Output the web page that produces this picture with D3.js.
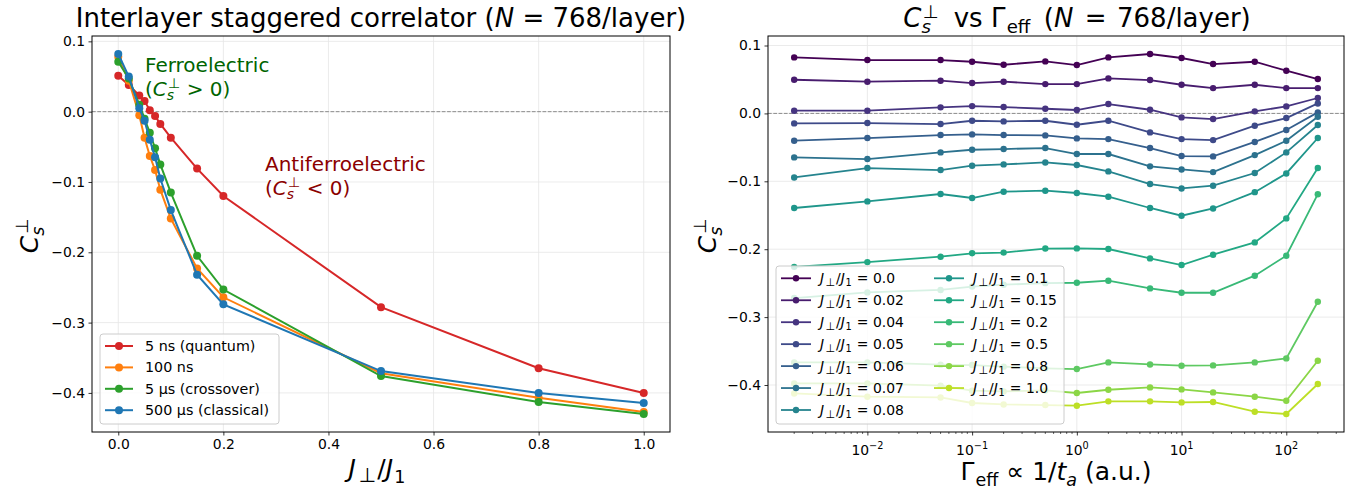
<!DOCTYPE html>
<html><head><meta charset="utf-8">
<script src="https://cdn.jsdelivr.net/npm/d3@7"></script>
<style>
body{margin:0;background:#fff}
svg text{font-family:'DejaVu Sans',sans-serif;white-space:pre}
</style></head>
<body><svg id="c" width="1367" height="496"></svg>
<script>
// ---------------- DATA ----------------
const jRatio = [0, 0.02, 0.04, 0.05, 0.06, 0.07, 0.08, 0.1, 0.15, 0.2, 0.5, 0.8, 1.0];
const seriesNames = ['5 ns (quantum)', '100 ns', '5 µs (crossover)', '500 µs (classical)'];
const cs5ns   = [0.051, 0.038, 0.023, 0.015, 0.002, -0.006, -0.0175, -0.037, -0.081, -0.120, -0.278, -0.365, -0.400];
const cs100ns = [0.078, 0.044, -0.005, -0.037, -0.063, -0.083, -0.111, -0.152, -0.223, -0.264, -0.372, -0.407, -0.427];
const cs5us   = [0.071, 0.047, 0.010, -0.010, -0.030, -0.052, -0.075, -0.115, -0.205, -0.253, -0.376, -0.413, -0.430];
const cs500us = [0.082, 0.050, 0.005, -0.013, -0.040, -0.065, -0.095, -0.140, -0.232, -0.274, -0.369, -0.400, -0.4145];
const leftColors = ['#d62728', '#ff7f0e', '#2ca02c', '#1f77b4'];

const gammaEff = [0.002, 0.01, 0.05, 0.1, 0.2, 0.5, 1, 2, 5, 10, 20, 50, 100, 200];
const csJ000 = [0.0825,0.0786,0.0786,0.0761,0.0717,0.0766,0.0712,0.0825,0.0875,0.0816,0.0727,0.0761,0.0629,0.0506];
const csJ002 = [0.0496,0.0467,0.0482,0.0447,0.0467,0.0432,0.0432,0.0516,0.0491,0.0422,0.0373,0.0422,0.0373,0.0373];
const csJ004 = [0.004,0.004,0.0089,0.0108,0.0094,0.0069,0.005,0.0138,0.0054,-0.0059,-0.0083,0.003,0.0103,0.0227];
const csJ005 = [-0.0147,-0.0142,-0.0157,-0.0108,-0.0118,-0.0108,-0.0167,-0.0108,-0.028,-0.0378,-0.0393,-0.0181,-0.0068,0.0147];
const csJ006 = [-0.0402,-0.0363,-0.0319,-0.0309,-0.0319,-0.0324,-0.0368,-0.0378,-0.051,-0.0628,-0.0633,-0.042,-0.0245,0.0015];
const csJ007 = [-0.0648,-0.0672,-0.0574,-0.0535,-0.0525,-0.051,-0.0598,-0.0598,-0.078,-0.0825,-0.0864,-0.0614,-0.0402,-0.0049];
const csJ008 = [-0.0943,-0.0805,-0.0834,-0.077,-0.0751,-0.0722,-0.076,-0.0854,-0.104,-0.1105,-0.1065,-0.0878,-0.0574,-0.0171];
const csJ010 = [-0.1393,-0.1296,-0.1187,-0.1246,-0.1153,-0.1138,-0.1172,-0.1227,-0.1393,-0.1507,-0.14,-0.116,-0.0884,-0.0362];
const csJ015 = [-0.226,-0.219,-0.211,-0.206,-0.205,-0.199,-0.1988,-0.1997,-0.2135,-0.2233,-0.2081,-0.19,-0.1546,-0.0804];
const csJ020 = [-0.2719,-0.2636,-0.26,-0.255,-0.2523,-0.25,-0.2494,-0.2464,-0.2577,-0.2641,-0.2641,-0.239,-0.2096,-0.119];
const csJ050 = [-0.3667,-0.3667,-0.37,-0.3706,-0.373,-0.3755,-0.3765,-0.3667,-0.3697,-0.3716,-0.3711,-0.3667,-0.3608,-0.2773];
const csJ080 = [-0.3976,-0.3976,-0.401,-0.4084,-0.4094,-0.408,-0.4118,-0.407,-0.4035,-0.4065,-0.4109,-0.4172,-0.4231,-0.3642];
const csJ100 = [-0.4124,-0.4172,-0.4183,-0.4265,-0.4286,-0.4295,-0.4305,-0.4241,-0.4241,-0.4256,-0.425,-0.4393,-0.4427,-0.3985];
const rightSeries = [csJ000,csJ002,csJ004,csJ005,csJ006,csJ007,csJ008,csJ010,csJ015,csJ020,csJ050,csJ080,csJ100];

const yTickVals = [0.1, 0.0, -0.1, -0.2, -0.3, -0.4];
const xTickValsL = [0.0, 0.2, 0.4, 0.6, 0.8, 1.0];
const xTickExpR = [-2, -1, 0, 1, 2];

// ---------------- LAYOUT ----------------
const svg = d3.select('#c');
const L = {x0: 92, x1: 670, y0: 36, y1: 432};
const R = {x0: 768, x1: 1344, y0: 36, y1: 432};
const fsTick = 13.9, fsLab = 25, fsTitle = 26, fsAnn = 20, fsLeg = 14.3, fsLegR = 13.9;
const gridCol = '#e6e6e6';

function padExtent(arr, frac) {
  const [a, b] = d3.extent(arr); const p = (b - a) * frac; return [a - p, b + p];
}
function rich(parent, x, y, fs, parts, attrs) {
  const t = parent.append('text').attr('x', x).attr('y', y).attr('font-size', fs);
  if (attrs) for (const k in attrs) t.attr(k, attrs[k]);
  let cur = 0;
  parts.forEach(p => {
    const sh = (p.sh || 0) * fs;
    const ts = t.append('tspan').text(p.t).attr('font-size', (p.s || 1) * fs);
    if (sh !== cur) ts.attr('dy', sh - cur);
    if (p.dx) ts.attr('dx', p.dx * fs);
    if (p.it) ts.attr('font-style', 'italic');
    cur = sh;
  });
  return t;
}
const CsParts = [{t: 'C', it: 1}, {t: 's', it: 1, s: .7, sh: .22}, {t: '⊥', s: .7, sh: -.42, dx: -.3}];
const CsPartsT = [{t: 'C', it: 1}, {t: 's', it: 1, s: .7, sh: .22}, {t: '⊥', s: .7, sh: -.36, dx: -.3}];
const JParts = [{t: 'J', it: 1}, {t: '⊥', s: .8, sh: .2, dx: .1}, {t: '/', sh: 0, dx: .06}, {t: 'J', it: 1}, {t: '1', s: .7, sh: .22, dx: .05}];

// ---------------- LEFT PANEL ----------------
const leftSeries = [cs5ns, cs100ns, cs5us, cs500us];
const xL = d3.scaleLinear().domain(padExtent(jRatio, 0.05)).range([L.x0, L.x1]);
const yL = d3.scaleLinear().domain(padExtent(leftSeries.flat(), 0.05)).range([L.y1, L.y0]);
const gl = svg.append('g');
gl.selectAll('.gx').data(xTickValsL).join('line').attr('x1', d => xL(d)).attr('x2', d => xL(d))
  .attr('y1', L.y0).attr('y2', L.y1).attr('stroke', gridCol).attr('stroke-width', 0.8);
gl.selectAll('.gy').data(yTickVals).join('line').attr('y1', d => yL(d)).attr('y2', d => yL(d))
  .attr('x1', L.x0).attr('x2', L.x1).attr('stroke', gridCol).attr('stroke-width', 0.8);
gl.append('line').attr('x1', L.x0).attr('x2', L.x1).attr('y1', yL(0)).attr('y2', yL(0))
  .attr('stroke', '#8c8c8c').attr('stroke-width', 1).attr('stroke-dasharray', '3.7,1.6');
leftSeries.forEach((s, i) => {
  const pts = jRatio.map((j, k) => [xL(j), yL(s[k])]);
  gl.append('path').attr('d', d3.line()(pts)).attr('fill', 'none').attr('stroke', leftColors[i]).attr('stroke-width', 2);
  gl.selectAll(null).data(pts).join('circle').attr('cx', d => d[0]).attr('cy', d => d[1]).attr('r', 4).attr('fill', leftColors[i]);
});
gl.append('rect').attr('x', L.x0).attr('y', L.y0).attr('width', L.x1 - L.x0).attr('height', L.y1 - L.y0)
  .attr('fill', 'none').attr('stroke', '#000').attr('stroke-width', 1);
const axXL = gl.append('g').attr('transform', `translate(0,${L.y1})`)
  .call(d3.axisBottom(xL).tickValues(xTickValsL).tickFormat(d3.format('.1f')).tickSize(3.5).tickPadding(3.5));
const axYL = gl.append('g').attr('transform', `translate(${L.x0},0)`)
  .call(d3.axisLeft(yL).tickValues(yTickVals).tickFormat(d3.format('.1f')).tickSize(3.5).tickPadding(3.5));
[axXL, axYL].forEach(a => { a.select('.domain').remove(); a.selectAll('text').attr('font-size', fsTick).attr('font-family', 'DejaVu Sans').attr('fill', '#000'); a.selectAll('line').attr('stroke', '#000').attr('stroke-width', 0.8); });
rich(gl, (L.x0 + L.x1) / 2, 27, fsTitle, [{t: 'Interlayer staggered correlator ('}, {t: 'N', it: 1}, {t: ' = 768/layer)'}], {'text-anchor': 'middle'});
rich(gl, (L.x0 + L.x1) / 2 - 4, 477, fsLab, JParts, {'text-anchor': 'middle'});
rich(gl, 0, 0, fsLab, CsParts, {'text-anchor': 'middle', transform: `translate(38,${(L.y0 + L.y1) / 2 + 2}) rotate(-90)`});
rich(gl, 145, 72, fsAnn, [{t: 'Ferroelectric'}], {fill: '#006400'});
rich(gl, 145, 96, fsAnn, [{t: '('}].concat(CsParts, [{t: ' > 0', sh: 0}, {t: ')'}]), {fill: '#006400'});
rich(gl, 265, 171, fsAnn, [{t: 'Antiferroelectric'}], {fill: '#8b0000'});
rich(gl, 265, 195, fsAnn, [{t: '('}].concat(CsParts, [{t: ' < 0', sh: 0}, {t: ')'}]), {fill: '#8b0000'});
{
  const lg = gl.append('g');
  const bx = 100, by = 334, bw = 179, bh = 90, rowH = 21.4, r0 = 346;
  lg.append('rect').attr('x', bx).attr('y', by).attr('width', bw).attr('height', bh).attr('rx', 3)
    .attr('fill', '#fff').attr('fill-opacity', 0.8).attr('stroke', '#cccccc').attr('stroke-width', 1);
  seriesNames.forEach((n, i) => {
    const cy = r0 + i * rowH;
    lg.append('line').attr('x1', 105).attr('x2', 133).attr('y1', cy).attr('y2', cy).attr('stroke', leftColors[i]).attr('stroke-width', 2);
    lg.append('circle').attr('cx', 119).attr('cy', cy).attr('r', 4).attr('fill', leftColors[i]);
    rich(lg, 145, cy + 5, fsLeg, [{t: n}]);
  });
}

// ---------------- RIGHT PANEL ----------------
const logExt = padExtent(gammaEff.map(Math.log10), 0.05);
const xR = d3.scaleLog().domain([10 ** logExt[0], 10 ** logExt[1]]).range([R.x0, R.x1]);
const yR = d3.scaleLinear().domain(padExtent(rightSeries.flat(), 0.05)).range([R.y1, R.y0]);
const gr = svg.append('g');
const majorR = xTickExpR.map(e => 10 ** e);
gr.selectAll('.gx').data(majorR).join('line').attr('x1', d => xR(d)).attr('x2', d => xR(d))
  .attr('y1', R.y0).attr('y2', R.y1).attr('stroke', gridCol).attr('stroke-width', 0.8);
gr.selectAll('.gy').data(yTickVals).join('line').attr('y1', d => yR(d)).attr('y2', d => yR(d))
  .attr('x1', R.x0).attr('x2', R.x1).attr('stroke', gridCol).attr('stroke-width', 0.8);
gr.append('line').attr('x1', R.x0).attr('x2', R.x1).attr('y1', yR(0)).attr('y2', yR(0))
  .attr('stroke', '#8c8c8c').attr('stroke-width', 1).attr('stroke-dasharray', '3.7,1.6');
const jLabels = jRatio.map(v => Number.isInteger(v) ? v.toFixed(1) : String(v));
const colR = jRatio.map((j, i) => d3.interpolateViridis(i / (jRatio.length - 1) * 0.9));
rightSeries.forEach((s, i) => {
  const pts = gammaEff.map((g, k) => [xR(g), yR(s[k])]);
  gr.append('path').attr('d', d3.line()(pts)).attr('fill', 'none').attr('stroke', colR[i]).attr('stroke-width', 1.8);
  gr.selectAll(null).data(pts).join('circle').attr('cx', d => d[0]).attr('cy', d => d[1]).attr('r', 3.2).attr('fill', colR[i]);
});
gr.append('rect').attr('x', R.x0).attr('y', R.y0).attr('width', R.x1 - R.x0).attr('height', R.y1 - R.y0)
  .attr('fill', 'none').attr('stroke', '#000').attr('stroke-width', 1);
const minorR = [];
for (let e = -3; e <= 3; e++) for (let m = 2; m <= 9; m++) { const v = m * 10 ** e; if (v >= xR.domain()[0] && v <= xR.domain()[1]) minorR.push(v); }
gr.selectAll('.mt').data(minorR).join('line').attr('x1', d => xR(d)).attr('x2', d => xR(d))
  .attr('y1', R.y1).attr('y2', R.y1 + 2).attr('stroke', '#000').attr('stroke-width', 0.6);
const axXR = gr.append('g').attr('transform', `translate(0,${R.y1})`)
  .call(d3.axisBottom(xR).tickValues(majorR).tickFormat(() => '').tickSize(3.5).tickPadding(3.5));
axXR.select('.domain').remove();
axXR.selectAll('line').attr('stroke', '#000').attr('stroke-width', 0.8);
xTickExpR.forEach(e => {
  rich(gr, xR(10 ** e), 455, fsTick, [{t: '10'}, {t: e < 0 ? '−' + (-e) : String(e), s: .7, sh: -.45}], {'text-anchor': 'middle'});
});
const axYR = gr.append('g').attr('transform', `translate(${R.x0},0)`)
  .call(d3.axisLeft(yR).tickValues(yTickVals).tickFormat(d3.format('.1f')).tickSize(3.5).tickPadding(3.5));
axYR.select('.domain').remove();
axYR.selectAll('text').attr('font-size', fsTick).attr('font-family', 'DejaVu Sans').attr('fill', '#000');
axYR.selectAll('line').attr('stroke', '#000').attr('stroke-width', 0.8);
rich(gr, (R.x0 + R.x1) / 2 + 21, 27, fsTitle, CsPartsT.concat([{t: ' vs ', sh: 0, dx: .25}, {t: 'Γ'}, {t: 'eff', s: .7, sh: .22, dx: .05}, {t: ' (', sh: 0, dx: .2}, {t: 'N', it: 1}, {t: ' = ', dx: .12}, {t: '768/layer)', dx: .08}]), {'text-anchor': 'middle'});
rich(gr, (R.x0 + R.x1) / 2, 480, fsLab, [{t: 'Γ'}, {t: 'eff', s: .7, sh: .22, dx: .05}, {t: ' ∝ 1/', sh: 0}, {t: 't', it: 1}, {t: 'a', it: 1, s: .7, sh: .22}, {t: ' (a.u.)', sh: 0}], {'text-anchor': 'middle'});
rich(gr, 0, 0, fsLab, CsParts, {'text-anchor': 'middle', transform: `translate(716,${(R.y0 + R.y1) / 2 + 2}) rotate(-90)`});
{
  const lg = gr.append('g');
  const bx = 776, by = 266, bw = 288, bh = 158, rowH = 21.95, r0 = 278.3;
  lg.append('rect').attr('x', bx).attr('y', by).attr('width', bw).attr('height', bh).attr('rx', 3)
    .attr('fill', '#fff').attr('fill-opacity', 0.8).attr('stroke', '#cccccc').attr('stroke-width', 1);
  jRatio.forEach((j, i) => {
    const col = i < 7 ? 0 : 1, row = i < 7 ? i : i - 7;
    const hx = col === 0 ? 781 : 934, cy = r0 + row * rowH;
    lg.append('line').attr('x1', hx).attr('x2', hx + 30).attr('y1', cy).attr('y2', cy).attr('stroke', colR[i]).attr('stroke-width', 1.8);
    lg.append('circle').attr('cx', hx + 15).attr('cy', cy).attr('r', 3.2).attr('fill', colR[i]);
    rich(lg, hx + 39, cy + 5, fsLegR, JParts.concat([{t: ' = ', sh: 0, dx: .05}, {t: jLabels[i]}]));
  });
}
</script></body></html>
